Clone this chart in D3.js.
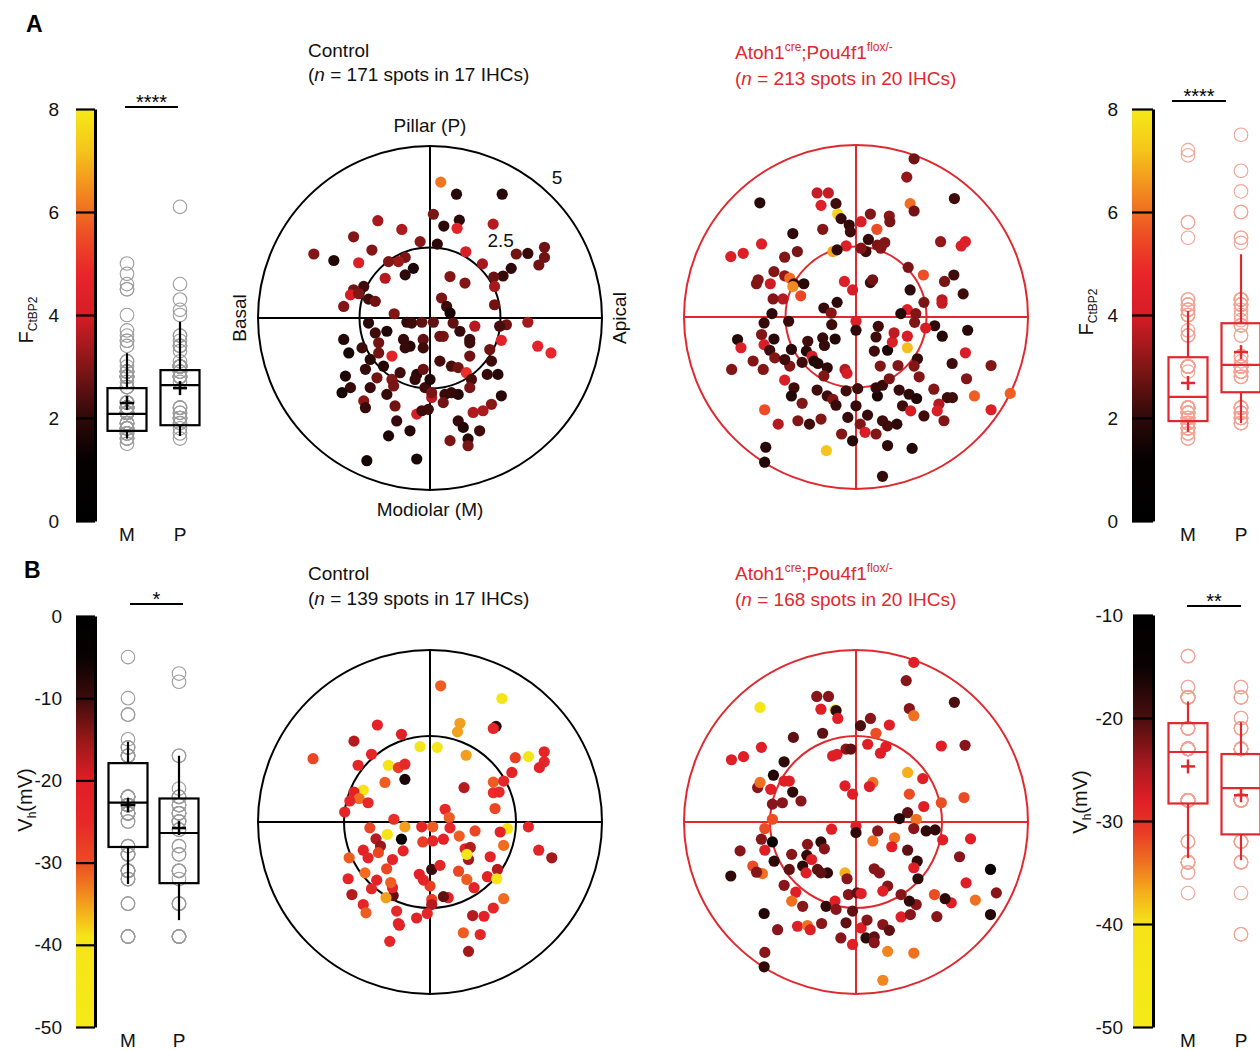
<!DOCTYPE html>
<html>
<head>
<meta charset="utf-8">
<script src="https://cdn.jsdelivr.net/npm/d3@7"></script>
<style>
  body { margin: 0; background: #fff; }
  svg { font-family: "Liberation Sans", Arial, sans-serif; }
</style>
</head>
<body>
<svg id="fig" width="1260" height="1050"></svg>
<script>
// ---- data: synapse positions (x = basal->apical, y = modiolar->pillar) and value ----
// A: F_CtBP2 intensity, B: V_half (mV)
const ctrlA = [
  [0.38,4.82,6.1],[0.94,4.39,1.9],[2.56,4.39,1.9],[0.12,3.68,2.9],[1.04,3.47,2.0],[0.49,3.26,2.0],[0.96,3.18,4.6],[2.24,3.33,3.6],
  [-1.85,3.45,3.4],[-1.0,3.14,3.5],[-2.71,2.88,3.0],[-4.12,2.27,3.0],[-3.41,2.04,1.8],[-2.53,1.96,4.3],[-2.06,2.41,3.0],[-0.35,2.71,3.1],
  [0.26,2.62,2.0],[1.27,2.35,4.1],[1.86,1.92,3.4],[2.88,1.76,2.0],[3.06,2.27,2.8],[3.47,2.29,2.1],[4.06,2.51,2.8],[4.06,2.15,2.8],
  [3.86,1.88,2.8],[2.59,1.49,2.1],[2.26,1.45,2.7],[2.29,1.12,3.4],[2.29,0.47,2.8],[1.24,1.24,3.0],[0.71,1.47,3.0],[-0.59,1.76,1.7],
  [-0.88,1.53,2.0],[-0.88,2.15,2.9],[-1.12,2.0,3.3],[-1.47,2.0,3.0],[-1.59,1.41,3.6],[-2.35,1.12,2.2],[-2.71,1.0,2.8],[-2.82,0.82,4.0],
  [-2.53,0.86,3.0],[-2.18,0.67,2.2],[-1.94,0.59,2.8],[-3.06,0.41,3.0],[0.41,0.71,2.9],[0.59,0.41,2.2],[0.71,0.18,1.6],[-1.27,0.15,3.0],
  [-2.18,-0.18,1.9],[-0.82,-0.15,2.1],[-0.65,-0.18,2.2],[-0.29,-0.15,2.6],[0.12,-0.15,2.6],[0.82,-0.18,2.6],[1.59,-0.29,3.6],[2.71,-0.24,2.8],
  [2.47,-0.29,2.3],[3.47,-0.15,3.4],[3.82,-1.0,4.6],[4.29,-1.24,4.8],[2.53,-0.79,4.5],[2.12,-1.12,2.8],[1.41,-0.76,2.2],[1.06,-0.47,2.1],
  [0.47,-0.65,2.9],[-0.24,-0.76,2.6],[-0.71,-1.0,1.8],[-0.94,-0.76,2.1],[-1.53,-0.47,1.7],[-1.94,-0.53,2.2],[-1.82,-0.88,2.8],[-2.41,-1.06,2.2],
  [-3.06,-0.76,1.8],[-2.88,-1.24,1.6],[-1.35,-1.35,4.5],[-2.12,-1.47,1.9],[-1.65,-1.71,1.8],[-2.29,-1.82,2.1],[-3.0,-2.06,1.7],[-2.82,-2.47,2.1],
  [-3.12,-2.65,1.6],[-2.12,-2.47,2.1],[-1.88,-2.12,2.8],[-1.35,-2.18,3.0],[-1.29,-2.41,2.9],[-1.53,-2.71,2.1],[-2.35,-2.94,3.1],[-2.29,-3.18,2.1],
  [-1.24,-3.12,2.8],[-1.18,-3.65,2.1],[-0.71,-4.0,1.8],[-1.47,-4.18,1.7],[-2.24,-5.06,1.5],[-0.47,-5.0,1.6],[-0.47,-3.41,4.0],[-0.29,-3.29,2.2],
  [-0.06,-3.24,2.2],[0.06,-2.82,3.7],[-0.18,-2.47,2.2],[-0.47,-2.0,1.9],[-0.24,-1.82,2.7],[0.0,-2.18,1.8],[0.35,-1.53,2.3],[0.76,-1.71,2.3],
  [1.0,-1.76,2.8],[1.29,-1.94,5.0],[1.47,-2.18,2.3],[1.41,-1.35,2.8],[1.41,-0.88,2.2],[2.18,-1.53,2.2],[2.41,-2.0,1.9],[2.03,-2.0,2.1],
  [1.41,-2.47,2.9],[0.53,-2.71,2.1],[1.0,-2.71,1.8],[0.76,-2.65,2.1],[2.53,-2.76,1.9],[2.18,-3.06,3.1],[1.88,-3.29,3.5],[1.53,-3.35,3.5],
  [1.0,-3.65,2.1],[1.18,-3.88,1.8],[1.76,-4.0,2.2],[0.71,-4.35,2.9],[1.35,-4.29,1.9],[1.35,-4.53,2.9],[0.35,-0.65,2.8],[-0.88,-1.06,2.1],
  [-0.24,-1.06,2.2],[-1.82,-1.24,2.8],[-1.06,-1.94,2.2],[0.06,-2.65,2.9],[0.47,-3.0,2.8],[-0.53,-2.18,2.1]
];
const mutA = [
  [2.06,5.61,2.8],[1.8,4.96,3.2],[3.49,4.2,2.2],[1.92,4.02,6.0],[2.06,3.76,2.8],[-3.41,4.05,1.9],[-1.38,4.4,3.8],[-0.98,4.4,3.8],
  [-1.24,3.96,4.3],[-0.71,4.02,2.2],[-0.65,3.65,7.5],[-0.53,3.49,2.1],[-0.24,3.26,2.1],[-0.2,3.02,2.2],[0.18,3.38,4.1],[0.51,3.65,3.0],
  [1.18,3.58,3.1],[1.2,3.38,2.9],[0.74,3.11,5.5],[0.44,2.75,2.1],[0.35,2.32,2.2],[0.76,2.55,2.9],[1.02,2.64,3.0],[0.88,2.44,3.0],
  [0.18,2.44,3.0],[-0.35,2.52,4.2],[-0.82,2.32,6.8],[-0.67,2.38,2.0],[-1.18,3.11,3.0],[-2.24,2.96,2.0],[-2.08,2.32,2.9],[-2.53,2.12,3.0],
  [-3.35,2.59,4.3],[-4.0,2.26,4.3],[-4.44,2.14,4.2],[-2.91,1.61,3.0],[-3.47,1.32,3.0],[-3.53,1.18,3.0],[-3.04,1.18,3.9],[-2.53,1.46,3.2],
  [-2.35,1.38,6.0],[-2.2,1.18,2.1],[-1.85,1.18,1.9],[-2.24,1.08,6.4],[-1.96,0.75,5.4],[-2.59,0.64,3.6],[-2.94,0.64,3.0],[-2.98,0.12,2.0],
  [-1.14,0.32,2.1],[-0.67,0.52,2.0],[-0.88,0.14,3.0],[-0.41,1.26,4.2],[-0.12,0.96,4.0],[0.51,1.22,2.2],[0.59,1.32,2.8],[1.92,0.96,2.0],
  [1.85,1.76,2.9],[2.39,1.49,5.5],[2.41,0.52,2.9],[1.82,0.26,4.2],[1.59,0.12,1.9],[2.12,0.12,3.0],[3.0,2.67,3.2],[3.73,2.52,4.3],
  [3.88,2.67,4.3],[3.47,1.49,2.2],[3.14,1.26,2.9],[3.05,0.61,3.6],[3.05,0.49,3.8],[3.8,0.82,2.2],
  [0.0,-0.15,4.2],[0.0,-0.47,2.0],[-0.86,-0.27,2.2],[-2.39,-0.15,2.1],[-3.26,-0.21,2.1],[-3.35,-0.62,3.0],[-2.91,-0.78,1.9],[-3.26,-0.98,4.1],
  [-4.2,-0.8,1.8],[-4.08,-1.09,4.3],[-3.06,-1.18,2.2],[-2.88,-1.45,3.0],[-2.29,-1.15,1.9],[-1.71,-0.86,2.2],[-1.18,-0.74,2.1],[-0.74,-0.78,1.8],
  [-1.12,-1.01,2.1],[-1.76,-1.21,1.9],[-1.56,-1.39,4.0],[-1.91,-1.61,2.2],[-1.49,-1.56,1.7],[-1.35,-1.65,1.8],[-1.02,-1.8,2.0],[-1.14,-2.09,3.0],
  [-0.39,-1.86,3.6],[-0.32,-2.0,4.0],[-2.35,-1.74,3.0],[-2.53,-1.51,2.2],[-3.65,-1.56,3.0],[-3.29,-1.86,3.0],[-4.41,-1.86,3.0],[-2.53,-2.24,4.1],
  [-2.2,-2.51,2.2],[-2.29,-2.8,1.8],[-1.91,-3.06,3.0],[-1.38,-2.59,2.2],[-1.02,-2.8,2.2],[-0.82,-2.92,3.0],[-0.71,-3.13,2.1],[-0.35,-2.62,2.2],
  [0.06,-2.54,2.2],[0.0,-3.15,2.1],[-0.29,-3.56,2.1],[-0.51,-4.15,3.0],[-0.12,-4.39,1.9],[0.15,-3.8,3.0],[0.32,-4.09,4.1],[0.71,-4.15,3.0],
  [0.41,-3.48,2.1],[0.94,-3.68,2.2],[1.12,-3.86,2.2],[1.45,-3.8,2.0],[1.65,-3.15,2.2],[1.94,-3.33,4.0],[2.41,-3.51,2.2],[1.12,-4.56,2.0],
  [1.99,-4.66,1.8],[0.94,-5.65,2.1],[-1.05,-4.74,7.2],[-2.76,-3.8,3.6],[-3.24,-3.29,5.5],[-3.2,-4.62,1.9],[-3.24,-5.15,1.8],[-2.06,-3.68,3.0],
  [-1.65,-3.8,2.2],[-1.24,-3.62,3.0],[0.76,-2.8,1.6],[0.71,-2.51,2.1],[0.94,-2.42,2.1],[1.53,-2.59,2.1],[1.88,-2.74,2.0],[2.15,-2.89,1.7],
  [2.76,-2.56,3.0],[3.24,-2.86,2.2],[3.42,-2.86,2.2],[2.94,-3.09,3.6],[2.88,-3.33,4.2],[3.12,-3.68,3.0],[4.2,-2.8,5.8],[4.79,-3.29,4.3],
  [5.47,-2.71,5.8],[3.92,-2.19,3.0],[4.79,-1.72,3.0],[3.41,-1.65,2.2],[3.88,-1.27,4.1],[3.96,-0.47,1.9],[3.06,-0.68,1.8],[2.79,-0.31,2.0],
  [2.47,-0.39,4.0],[2.08,-0.19,3.0],[1.82,-0.68,4.1],[1.82,-1.09,7.1],[1.12,-1.18,1.6],[1.29,-0.89,4.2],[1.35,-0.56,3.7],[0.79,-0.33,2.2],
  [0.71,-0.71,2.2],[0.65,-1.21,2.2],[0.86,-1.74,3.0],[1.49,-1.72,3.0],[2.18,-1.48,2.1],[2.06,-1.74,3.0],[2.24,-2.12,3.0],[1.18,-2.19,2.9]
];
const ctrlB = [
  [0.31,3.96,-31],[2.09,3.59,-39],[0.87,2.87,-35],[0.8,2.62,-35],[1.92,2.78,-8],[1.84,2.72,-24],[-1.53,2.82,-22],[-0.83,2.55,-21],
  [-2.21,2.35,-17],[-3.4,1.84,-29],[-2.09,1.65,-24],[-1.7,1.97,-23],[-0.29,2.19,-39],[0.21,2.17,-39],[1.05,1.94,-35],[-1.21,1.65,-39],
  [-0.92,1.58,-28],[-0.73,1.68,-25],[-0.73,1.24,-7],[-1.31,1.15,-31],[-1.94,0.93,-39],[-2.21,0.87,-22],[-2.06,0.68,-32],[-2.33,0.61,-24],
  [-1.8,0.56,-25],[-2.48,0.29,-23],[0.99,1.0,-17],[1.84,1.16,-31],[2.14,1.19,-24],[2.38,1.44,-22],[1.84,0.85,-26],[2.01,0.87,-25],
  [1.89,0.39,-29],[2.48,1.87,-28],[2.86,1.9,-39],[3.32,2.04,-23],[3.32,1.75,-24],[3.18,1.58,-22],[0.44,0.37,-25],[0.56,0.13,-31],
  [-1.05,0.08,-26],
  [0.08,-0.14,-31],[-0.24,-0.14,-24],[-0.73,-0.14,-35],[-1.24,-0.36,-39],[-1.75,-0.17,-29],[-1.57,-0.49,-17],[-1.44,-0.7,-15],[-0.83,-0.5,-5],
  [-0.78,-0.84,-23],[-0.21,-0.58,-28],[0.08,-0.55,-24],[0.39,-0.5,-22],[0.58,-0.17,-25],[0.85,-0.41,-31],[1.31,-0.26,-29],[1.02,-0.78,-23],
  [1.17,-0.74,-17],[1.12,-1.09,-16],[1.07,-0.94,-39],[2.14,-0.68,-32],[2.25,-0.19,-39],[2.04,-0.29,-22],[2.86,-0.14,-24],[3.16,-0.82,-23],
  [3.54,-1.04,-16],[1.75,-1.01,-23],[1.67,-1.59,-22],[1.96,-1.38,-17],[1.94,-1.65,-39],[2.14,-2.23,-32],[1.84,-2.5,-24],[1.57,-2.74,-22],
  [1.24,-2.72,-17],[1.46,-3.27,-24],[0.97,-3.22,-31],[1.12,-3.76,-16],[1.28,-1.91,-23],[1.07,-1.67,-31],[0.83,-1.43,-29],[0.53,-2.2,-22],
  [0.39,-2.17,-12],[0.05,-2.25,-28],[0.05,-2.4,-17],[0.0,-1.86,-28],[-0.19,-1.69,-24],[-0.31,-1.52,-22],[0.05,-1.38,-10],[0.29,-1.26,-23],
  [-0.08,-2.66,-24],[-0.39,-2.79,-22],[-0.92,-2.95,-23],[-0.97,-2.59,-25],[-1.07,-2.14,-12],[-1.09,-1.91,-23],[-1.14,-1.76,-31],[-1.28,-2.2,-35],
  [-1.26,-1.36,-29],[-1.09,-1.09,-23],[-1.5,-0.89,-29],[-1.94,-0.82,-22],[-1.8,-1.04,-24],[-2.35,-1.04,-31],[-1.89,-1.48,-32],[-2.38,-1.65,-23],
  [-1.55,-1.69,-22],[-1.7,-1.94,-24],[-2.27,-2.11,-17],[-1.94,-2.4,-23],[-1.86,-2.64,-31],[-1.17,-3.47,-24],[-0.89,-3.0,-22]
];
const mutB = [
  [1.68,4.64,-28],[1.46,4.11,-23],[2.86,3.48,-20],[1.55,3.3,-23],[1.68,3.09,-34],[-2.79,3.33,-41],[-1.14,3.65,-23],[-0.8,3.65,-23],
  [-1.02,3.28,-28],[-0.61,3.26,-41],[-0.58,3.24,-18],[-0.53,3.01,-28],[0.13,2.8,-20],[0.42,3.01,-23],[0.97,2.82,-28],[0.58,2.58,-32],
  [0.34,2.26,-28],[0.87,2.19,-28],[0.71,2.0,-28],[2.48,2.21,-28],[3.17,2.23,-23],[1.5,1.44,-37],[1.94,1.26,-28],[3.14,0.71,-32],
  [2.48,0.56,-32],[1.97,0.45,-28],[1.55,0.81,-32],[1.5,0.27,-21],[1.26,0.1,-17],[1.75,0.08,-34],[0.49,1.15,-34],[0.39,1.03,-28],
  [-0.32,1.05,-28],[-0.1,0.81,-28],[-0.97,2.58,-21],[-1.82,2.46,-21],[-2.75,2.17,-28],[-3.62,1.81,-28],[-3.27,1.9,-28],[-2.09,1.75,-18],
  [-0.68,1.92,-28],[-0.55,1.97,-28],[-0.29,2.12,-23],[-0.15,2.12,-21],[-2.4,1.36,-17],[-2.86,1.0,-23],[-2.79,1.15,-34],[-2.48,0.95,-28],
  [-2.09,1.19,-28],[-1.94,1.19,-28],[-1.84,0.87,-18],[-1.6,0.61,-23],[-2.14,0.56,-23],[-2.43,0.52,-23],[-2.43,0.08,-32],
  [0.0,-0.12,-28],[0.0,-0.31,-18],[-0.71,-0.21,-28],[-2.65,-0.19,-32],[-2.75,-0.5,-23],[-2.43,-0.58,-14],[-2.65,-0.82,-28],[-3.37,-0.84,-23],
  [-2.38,-1.14,-18],[-3.0,-1.28,-32],[-2.72,-1.5,-34],[-2.89,-1.46,-23],[-3.64,-1.57,-18],[-1.87,-0.94,-23],[-1.41,-0.65,-23],[-1.02,-0.58,-18],
  [-0.92,-0.78,-23],[-1.43,-0.97,-18],[-1.29,-1.09,-28],[-1.55,-1.28,-18],[-1.94,-1.38,-21],[-1.45,-1.48,-28],[-1.12,-1.38,-21],[-0.83,-1.48,-18],
  [-1.02,-1.48,-21],[-0.32,-1.48,-37],[-0.26,-1.65,-23],[-2.09,-1.84,-23],[-1.75,-2.04,-28],[-1.87,-2.3,-34],[-1.55,-2.45,-23],[-2.67,-2.66,-17],
  [-2.28,-3.13,-23],[-2.65,-3.79,-23],[-2.67,-4.21,-18],[-1.7,-3.03,-28],[-1.41,-3.01,-34],[-1.33,-3.13,-28],[-1.0,-2.95,-23],[-0.87,-2.45,-18],
  [-0.61,-2.3,-28],[-0.58,-2.54,-23],[-0.22,-2.11,-23],[0.03,-2.06,-21],[0.15,-2.08,-28],[-0.1,-2.59,-21],[-0.29,-2.93,-21],[-0.44,-3.37,-23],
  [-0.1,-3.56,-28],[0.15,-3.08,-28],[0.32,-2.85,-23],[0.29,-3.37,-18],[0.53,-3.34,-21],[0.53,-3.51,-23],[0.78,-2.98,-23],[0.97,-3.15,-21],
  [0.92,-3.76,-35],[1.68,-3.81,-34],[0.78,-4.6,-35],[1.31,-2.76,-28],[1.58,-2.69,-23],[1.75,-2.4,-23],[1.55,-2.3,-18],[1.31,-2.11,-23],
  [0.92,-1.86,-23],[0.78,-2.01,-28],[0.53,-1.36,-23],[0.68,-1.48,-23],[0.49,-0.55,-34],[0.63,-0.26,-23],[1.12,-0.46,-34],[1.04,-0.72,-28],
  [1.5,-0.82,-21],[1.78,-1.14,-18],[1.68,-1.33,-28],[1.8,-1.65,-18],[1.68,-0.19,-23],[2.04,-0.26,-18],[2.3,-0.23,-18],[2.52,-0.52,-28],
  [3.33,-0.49,-28],[3.01,-1.01,-23],[3.91,-1.38,-14],[3.2,-1.77,-28],[4.08,-2.06,-23],[3.47,-2.27,-34],[3.91,-2.69,-17],[2.77,-2.35,-28],
  [2.59,-2.23,-18],[2.28,-2.11,-32],[2.35,-2.75,-23]
];

// box statistics: [whiskerLow, q1, median, q3, whiskerHigh, mean]
const boxCtrlA = { M: [1.6, 1.75, 2.08, 2.58, 3.26, 2.29], P: [1.65, 1.86, 2.64, 2.93, 3.87, 2.58] };
const boxMutA  = { M: [1.73, 1.94, 2.41, 3.18, 4.08, 2.68], P: [1.9, 2.5, 3.03, 3.84, 5.18, 3.28] };
const boxCtrlB = { M: [-32.6, -28.1, -22.7, -17.9, -15.3, -23.0], P: [-37.0, -32.5, -26.4, -22.2, -17.0, -25.8] };
const boxMutB  = { M: [-33.6, -28.3, -23.3, -20.5, -18.4, -24.7], P: [-33.8, -31.3, -26.8, -23.5, -20.4, -27.5] };

// colour maps (value -> colour)
const hotA = { d: [0, 1.2, 2, 3, 4, 4.8, 5.6, 6.4, 7.2, 8],
  c: ["#000000", "#060101", "#2e0909", "#821616", "#d61d26", "#e8252a", "#ee5124", "#f28a1f", "#f5c51b", "#f5ea17"] };
const hotBL = { d: [0, -5, -10, -15, -20, -25, -30, -33, -36, -39, -50],
  c: ["#000000", "#080202", "#3c0b0b", "#961818", "#e01e26", "#e62828", "#ec4c22", "#f07c20", "#f4b01c", "#f5e418", "#f5ea17"] };
const hotBR = { d: [-10, -15, -20, -25, -28, -31, -34, -37, -40, -50],
  c: ["#000000", "#0a0202", "#4a0e0e", "#b01a20", "#e01e26", "#e83a26", "#ef7021", "#f4b01c", "#f5e418", "#f5ea17"] };

const ticksA = [0, 2, 4, 6, 8];
const ticksBL = [0, -10, -20, -30, -40, -50];
const ticksBR = [-10, -20, -30, -40, -50];

const RED = "#e0282e";
const svg = d3.select("#fig");
const defs = svg.append("defs");
const FONT = "Liberation Sans, Arial, sans-serif";

function colorbar(y, color, ticks, x, w, pad, id) {
  const [d0, d1] = y.domain();
  const y0 = y(d0), y1 = y(d1);
  const stops = color.domain().map(d => ({ o: (y(d) - y0) / (y1 - y0), c: color(d) }))
    .sort((a, b) => a.o - b.o);
  const grad = defs.append("linearGradient").attr("id", id)
    .attr("gradientUnits", "userSpaceOnUse")
    .attr("x1", 0).attr("x2", 0).attr("y1", y0).attr("y2", y1);
  grad.selectAll("stop").data(stops).join("stop")
    .attr("offset", d => d.o).attr("stop-color", d => d.c);
  svg.append("rect").attr("x", x).attr("y", Math.min(y0, y1))
    .attr("width", w).attr("height", Math.abs(y1 - y0)).attr("fill", `url(#${id})`);
  const ax = svg.append("g").attr("transform", `translate(${x + w},0)`)
    .call(d3.axisLeft(y).tickValues(ticks).tickSize(w).tickPadding(pad).tickSizeOuter(0).tickFormat(d => String(d)))
    .attr("font-family", FONT).attr("font-size", 19);
  ax.select(".domain").attr("stroke", "#000").attr("stroke-width", 3);
  ax.selectAll(".tick line").attr("stroke", "#000").attr("stroke-width", 2.2);
  ax.selectAll(".tick text").attr("fill", "#111");
}

function boxes(y, pts, stats, xr, col, circ, labelY) {
  const x = d3.scalePoint().domain(["M", "P"]).range(xr);
  const bw = 39;
  const groups = { M: pts.filter(d => d[1] < 0).map(d => d[2]), P: pts.filter(d => d[1] >= 0).map(d => d[2]) };
  ["M", "P"].forEach(k => {
    const g = svg.append("g");
    g.selectAll("circle").data(groups[k]).join("circle")
      .attr("cx", x(k)).attr("cy", d => y(d)).attr("r", 6.8)
      .attr("fill", "none").attr("stroke", circ).attr("stroke-width", 1.1);
    const [lo, q1, md, q3, hi, mn] = stats[k];
    const cx = x(k);
    g.append("rect").attr("x", cx - bw / 2).attr("y", y(q3)).attr("width", bw).attr("height", y(q1) - y(q3))
      .attr("fill", "none").attr("stroke", col).attr("stroke-width", 2.2);
    g.append("line").attr("x1", cx - bw / 2).attr("x2", cx + bw / 2).attr("y1", y(md)).attr("y2", y(md))
      .attr("stroke", col).attr("stroke-width", 2.2);
    g.append("line").attr("x1", cx).attr("x2", cx).attr("y1", y(hi)).attr("y2", y(q3)).attr("stroke", col).attr("stroke-width", 2.2);
    g.append("line").attr("x1", cx).attr("x2", cx).attr("y1", y(q1)).attr("y2", y(lo)).attr("stroke", col).attr("stroke-width", 2.2);
    g.append("line").attr("x1", cx - 7).attr("x2", cx + 7).attr("y1", y(mn)).attr("y2", y(mn)).attr("stroke", col).attr("stroke-width", 2.5);
    g.append("line").attr("x1", cx).attr("x2", cx).attr("y1", y(mn) - 7).attr("y2", y(mn) + 7).attr("stroke", col).attr("stroke-width", 2.5);
    svg.append("text").attr("x", cx).attr("y", labelY).attr("text-anchor", "middle")
      .attr("font-size", 19).attr("fill", "#111").text(k);
  });
}

function sig(x0, x1, yl, stars) {
  svg.append("line").attr("x1", x0).attr("x2", x1).attr("y1", yl).attr("y2", yl).attr("stroke", "#000").attr("stroke-width", 2);
  svg.append("text").attr("x", (x0 + x1) / 2).attr("y", yl + 2).attr("text-anchor", "middle")
    .attr("font-size", 20).attr("fill", "#000").text(stars);
}

function polar(pts, cx, cy, rMax, rings, col, color) {
  const r = d3.scaleLinear().domain([0, rMax]).range([0, 172]);
  const g = svg.append("g").attr("transform", `translate(${cx},${cy})`);
  g.selectAll("circle.ring").data(rings).join("circle").attr("class", "ring")
    .attr("r", d => r(d)).attr("fill", "none").attr("stroke", col).attr("stroke-width", 2);
  g.append("line").attr("x1", -r(rMax)).attr("x2", r(rMax)).attr("stroke", col).attr("stroke-width", 2);
  g.append("line").attr("y1", -r(rMax)).attr("y2", r(rMax)).attr("stroke", col).attr("stroke-width", 2);
  g.selectAll("circle.dot").data(pts).join("circle").attr("class", "dot")
    .attr("cx", d => r(d[0])).attr("cy", d => -r(d[1])).attr("r", 5.6)
    .attr("fill", d => color(d[2]));
  return r;
}

function title(x, y1, y2, first, n, cells, col) {
  const t = svg.append("text").attr("x", x).attr("y", y1).attr("font-size", 19).attr("fill", col);
  if (Array.isArray(first)) {
    let back = 0;
    first.forEach(([s, sup]) => {
      t.append("tspan").attr("dy", back).text(s);
      t.append("tspan").attr("font-size", 12).attr("dy", -8).text(sup);
      back = 8;
    });
  } else t.text(first);
  const t2 = svg.append("text").attr("x", x).attr("y", y2).attr("font-size", 19).attr("fill", col);
  t2.append("tspan").text("(");
  t2.append("tspan").attr("font-style", "italic").text("n");
  t2.append("tspan").text(` = ${n} spots in ${cells} IHCs)`);
}

function rotLabel(x, y, main, sub, rest) {
  const t = svg.append("text").attr("transform", `translate(${x},${y}) rotate(-90)`)
    .attr("text-anchor", "middle").attr("font-size", 20).attr("fill", "#111");
  t.append("tspan").text(main);
  t.append("tspan").attr("font-size", 12).attr("dy", 4).text(sub);
  if (rest) t.append("tspan").attr("dy", -4).text(rest);
}

// ---------- panel A ----------
const yA = d3.scaleLinear().domain([0, 8]).range([521, 109]);
const colA = d3.scaleLinear().domain(hotA.d).range(hotA.c).clamp(true);
colorbar(yA, colA, ticksA, 76, 19, 17, "gA1");
boxes(yA, ctrlA, boxCtrlA, [127, 180], "#000", "#9c9c9c", 541);
sig(125, 178, 107, "****");
rotLabel(33, 320, "F", "CtBP2");

colorbar(yA, colA, ticksA, 1132, 21, 14, "gA2");
boxes(yA, mutA, boxMutA, [1188, 1241], RED, "#f3a494", 541);
sig(1172, 1226, 101, "****");
rotLabel(1093, 312, "F", "CtBP2");

const rCA = polar(ctrlA, 430, 318, 6.1, [2.5, 6.1], "#000", colA);
polar(mutA, 856, 317, 6.1, [2.5, 6.1], RED, colA);

title(308, 57, 81, "Control", 171, 17, "#111");
title(735, 59, 85, [["Atoh1", "cre"], [";Pou4f1", "flox/-"]], 213, 20, RED);

svg.append("text").attr("x", 430).attr("y", 132).attr("text-anchor", "middle").attr("font-size", 19).attr("fill", "#111").text("Pillar (P)");
svg.append("text").attr("x", 430).attr("y", 516).attr("text-anchor", "middle").attr("font-size", 19).attr("fill", "#111").text("Modiolar (M)");
svg.append("text").attr("transform", "translate(246,318) rotate(-90)").attr("text-anchor", "middle").attr("font-size", 19).attr("fill", "#111").text("Basal");
svg.append("text").attr("transform", "translate(626,318) rotate(-90)").attr("text-anchor", "middle").attr("font-size", 19).attr("fill", "#111").text("Apical");
// ring labels
const ringLab = [{ t: "2.5", r: 2.5, a: 48, off: 35 }, { t: "5", r: 6.1, a: 48, off: 18 }];
svg.selectAll("text.ringlab").data(ringLab).join("text").attr("class", "ringlab")
  .attr("x", d => 430 + (rCA(d.r) + d.off) * Math.cos(d.a * Math.PI / 180))
  .attr("y", d => 318 - (rCA(d.r) + d.off) * Math.sin(d.a * Math.PI / 180) + 7)
  .attr("text-anchor", "middle").attr("font-size", 19).attr("fill", "#111").text(d => d.t);

// ---------- panel B ----------
const yBL = d3.scaleLinear().domain([-50, 0]).range([1027, 616]);
const colBL = d3.scaleLinear().domain(hotBL.d).range(hotBL.c).clamp(true);
colorbar(yBL, colBL, ticksBL, 76, 19, 14, "gB1");
boxes(yBL, ctrlB, boxCtrlB, [128, 179], "#000", "#9c9c9c", 1047);
sig(130, 183, 604, "*");
rotLabel(32, 800, "V", "h", "(mV)");

const yBR = d3.scaleLinear().domain([-50, -10]).range([1027, 615]);
const colBR = d3.scaleLinear().domain(hotBR.d).range(hotBR.c).clamp(true);
colorbar(yBR, colBR, ticksBR, 1133, 20, 10, "gB2");
boxes(yBR, mutB, boxMutB, [1188, 1241], RED, "#f3a494", 1047);
sig(1187, 1241, 606, "**");
rotLabel(1087, 802, "V", "h", "(mV)");

polar(ctrlB, 430, 822, 5, [2.5, 5], "#000", colBL);
polar(mutB, 856, 822, 5, [2.5, 5], RED, colBR);

title(308, 580, 605, "Control", 139, 17, "#111");
title(735, 580, 606, [["Atoh1", "cre"], [";Pou4f1", "flox/-"]], 168, 20, RED);

// panel letters
svg.append("text").attr("x", 26).attr("y", 32).attr("font-size", 23).attr("font-weight", "bold").text("A");
svg.append("text").attr("x", 24).attr("y", 578).attr("font-size", 23).attr("font-weight", "bold").text("B");
</script>
</body>
</html>
